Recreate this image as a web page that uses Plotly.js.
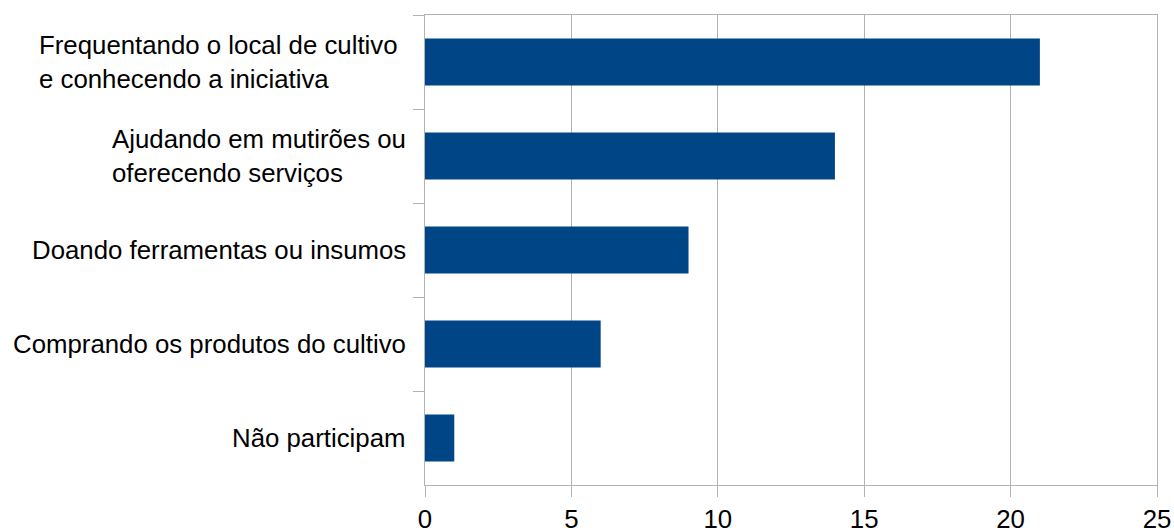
<!DOCTYPE html>
<html>
<head>
<meta charset="utf-8">
<script src="https://cdn.plot.ly/plotly-3.0.1.min.js"></script>
<style>
  html, body { margin: 0; padding: 0; background: #ffffff; }
  #chart { width: 1174px; height: 528px; }
</style>
</head>
<body>
<div id="chart"></div>
<script>
// Forms of participation, listed top to bottom
const categories = [
  "Frequentando o local de cultivo\ne conhecendo a iniciativa",
  "Ajudando em mutirões ou\noferecendo serviços",
  "Doando ferramentas ou insumos",
  "Comprando os produtos do cultivo",
  "Não participam"
];
const counts = [21, 14, 9, 6, 1];
const xTicks = [0, 5, 10, 15, 20, 25];

const FONT = "Liberation Sans, Arial, sans-serif";
const GREY = "#b3b3b3";
const SIZE = 25.8;

const keys = categories.map((c, i) => "c" + i);

const trace = {
  type: "bar",
  orientation: "h",
  x: counts,
  y: keys,
  marker: { color: "#004586", line: { width: 0 } },
  hoverinfo: "x"
};

// Category labels: multi-line blocks are left-aligned, right edge against the axis
const annotations = categories.map((c, i) => {
  const lines = c.split("\n");
  return {
    xref: "paper", yref: "y",
    x: 0, y: keys[i],
    xanchor: "right", yanchor: "middle",
    xshift: lines.length > 1 && i === 0 ? -25 : -17,
    text: lines.join("<br>"),
    align: lines.length > 1 ? "left" : "right",
    showarrow: false,
    font: { family: FONT, size: SIZE, color: "#000000" }
  };
});

const layout = {
  width: 1174,
  height: 528,
  margin: { l: 425, r: 17, t: 14.5, b: 43, pad: 0 },
  paper_bgcolor: "#ffffff",
  plot_bgcolor: "#ffffff",
  showlegend: false,
  bargap: 0.5,
  font: { family: FONT, size: SIZE, color: "#000000" },
  xaxis: {
    range: [0, 25],
    tickvals: xTicks,
    ticktext: xTicks.map(String),
    showgrid: true,
    gridcolor: GREY,
    gridwidth: 1,
    zeroline: false,
    showline: true,
    linecolor: GREY,
    linewidth: 1,
    mirror: true,
    ticks: "outside",
    ticklen: 11,
    tickcolor: GREY,
    tickwidth: 1,
    tickfont: { family: FONT, size: SIZE, color: "#000000" },
    fixedrange: true
  },
  yaxis: {
    type: "category",
    categoryorder: "array",
    categoryarray: keys,
    autorange: "reversed",
    showgrid: false,
    zeroline: false,
    showline: true,
    linecolor: GREY,
    linewidth: 1,
    mirror: true,
    ticks: "outside",
    tickson: "boundaries",
    ticklen: 11,
    tickcolor: GREY,
    tickwidth: 1,
    showticklabels: false,
    fixedrange: true
  },
  annotations: annotations
};

Plotly.newPlot("chart", [trace], layout, { displayModeBar: false, staticPlot: true });
</script>
</body>
</html>
